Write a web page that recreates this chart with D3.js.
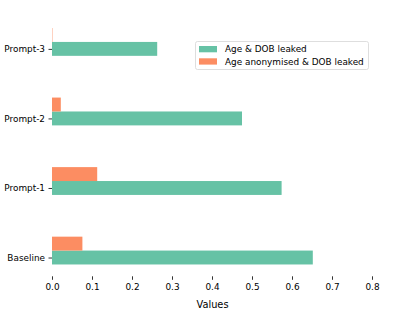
<!DOCTYPE html>
<html><head><meta charset="utf-8">
<script src="https://cdn.jsdelivr.net/npm/d3@7"></script>
<style>body{margin:0;background:#fff}svg{display:block}text{font-family:"DejaVu Sans",sans-serif;fill:#000}</style>
</head><body>
<svg id="c" width="415" height="311"></svg>
<script>
const categories = ["Baseline","Prompt-1","Prompt-2","Prompt-3"];
const ageDobLeaked = [0.652, 0.574, 0.475, 0.263];
const ageAnonDobLeaked = [0.076, 0.113, 0.022, 0.001];
const seriesNames = ["Age & DOB leaked","Age anonymised & DOB leaked"];
const colors = ["#66c2a5","#fc8d62"];
const xTicks = [0,0.1,0.2,0.3,0.4,0.5,0.6,0.7,0.8];

const svg = d3.select("#c");
const x = d3.scaleLinear().domain([0,0.8]).range([52,372]);
const y = d3.scaleLinear().domain([-0.27,3.47]).range([276.3,16.2]);
const fs = 8.9;

// bars
categories.forEach((c,i)=>{
  svg.append("rect").attr("x",x(0)).attr("y",y(i+0.1)).attr("width",x(ageDobLeaked[i])-x(0))
    .attr("height",y(i-0.1)-y(i+0.1)).attr("fill",colors[0]);
  svg.append("rect").attr("x",x(0)).attr("y",y(i+0.3)).attr("width",x(ageAnonDobLeaked[i])-x(0))
    .attr("height",y(i+0.1)-y(i+0.3)).attr("fill",colors[1]);
});

// x axis
const xa = svg.append("g").attr("transform","translate(0,276.3)")
  .call(d3.axisBottom(x).tickValues(xTicks).tickFormat(d3.format(".1f")).tickSize(3.5).tickPadding(3.5));
xa.select(".domain").remove();
xa.selectAll("line").attr("stroke","#000").attr("stroke-width",0.8);
xa.selectAll("text").attr("font-size",fs).attr("font-family","DejaVu Sans").attr("fill","#000");

// y axis
const ya = svg.append("g").attr("transform","translate(52,0)")
  .call(d3.axisLeft(y).tickValues(d3.range(categories.length)).tickFormat(i=>categories[i]).tickSize(3.5).tickPadding(3.5));
ya.select(".domain").remove();
ya.selectAll("line").attr("stroke","#000").attr("stroke-width",0.8);
ya.selectAll("text").attr("font-size",fs).attr("font-family","DejaVu Sans").attr("fill","#000");

svg.append("text").attr("x",212.5).attr("y",308).attr("text-anchor","middle").attr("font-size",9.8).text("Values");

// legend
const lg = svg.append("g");
lg.append("rect").attr("x",195.5).attr("y",41.5).attr("width",173).attr("height",28).attr("rx",2)
  .attr("fill","#fff").attr("fill-opacity",0.8).attr("stroke","#d6d6d6").attr("stroke-width",0.8);
seriesNames.forEach((n,i)=>{
  const yy = 46 + i*12.3;
  lg.append("rect").attr("x",199).attr("y",yy).attr("width",18).attr("height",6.3).attr("fill",colors[i]);
  lg.append("text").attr("x",225).attr("y",yy+6.2).attr("font-size",fs).text(n);
});
</script>
</body></html>
